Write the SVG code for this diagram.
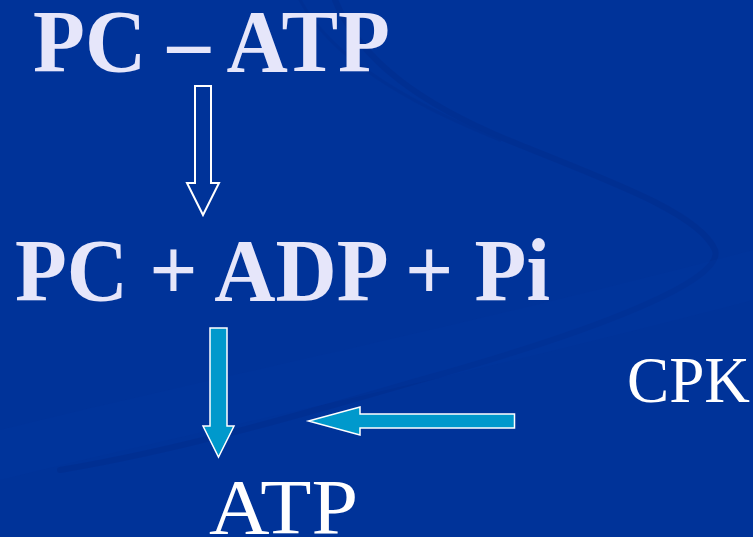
<svg xmlns="http://www.w3.org/2000/svg" width="753" height="537" viewBox="0 0 753 537">
<style>
.bold{font-family:"Liberation Serif","Times New Roman",serif;font-weight:bold;fill:#E6E6FA}
.reg{font-family:"Liberation Serif","Times New Roman",serif;fill:#FFFFFF}
.swoosh{fill:none;stroke:#002D8C;stroke-linecap:round}
</style>
<rect width="753" height="537" fill="#003399"/>
<g id="background" opacity="0.5">
<path class="swoosh" stroke-width="6" d="M335,0 C360,60 420,105 520,145 C620,185 700,215 715,250 C725,280 600,330 420,380 C300,415 180,450 60,470"/>
<path class="swoosh" stroke-width="3" opacity="0.6" d="M300,0 C330,55 400,100 500,140"/>
<path fill="#0039A6" opacity="0.35" d="M0,430 C200,380 450,330 753,250 L753,300 C450,380 200,430 0,480 Z"/>
</g>
<g id="node-pc-atp"><text class="bold" x="33" y="71" font-size="89" textLength="357" lengthAdjust="spacingAndGlyphs">PC – ATP</text></g>
<g id="node-pc-adp-pi"><text class="bold" x="15" y="300" font-size="89" textLength="535" lengthAdjust="spacingAndGlyphs">PC + ADP + Pi</text></g>
<g id="node-atp"><text class="reg" x="209" y="533" font-size="78" textLength="149" lengthAdjust="spacingAndGlyphs">ATP</text></g>
<g id="node-cpk"><text class="reg" x="627" y="402" font-size="66" textLength="123" lengthAdjust="spacingAndGlyphs">CPK</text></g>
<g id="connectors">
<path d="M195,86 H211 V183 H219 L203,215 L187,183 H195 Z" fill="none" stroke="#FFFFFF" stroke-width="2" stroke-linejoin="miter"/>
<path d="M210,328 H227 V426 H234 L218.5,457 L203,426 H210 Z" fill="#0099CC" stroke="#FFFFFF" stroke-width="1.5"/>
<path d="M514.5,414 V428 H360 V435 L308.5,421 L360,407 V414 Z" fill="#0099CC" stroke="#FFFFFF" stroke-width="1.5"/>
</g>
</svg>
